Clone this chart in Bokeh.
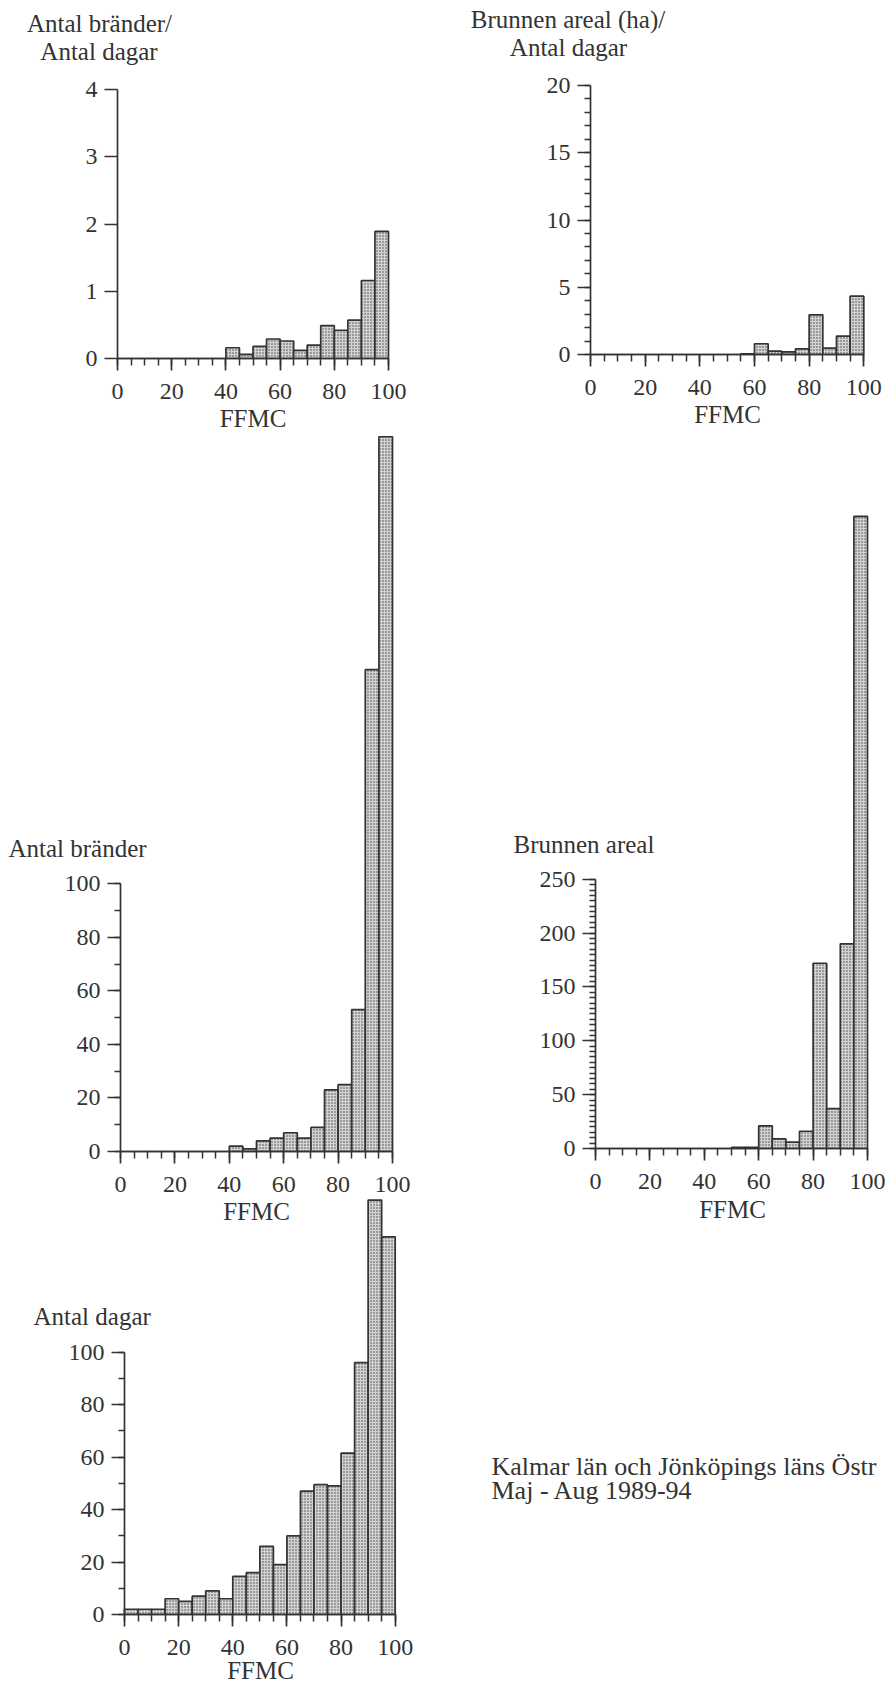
from bokeh.plotting import figure
from bokeh.models import Range1d, SingleIntervalTicker, Label, ColumnDataSource
from bokeh.layouts import row, column
from bokeh.embed import file_html
from bokeh.resources import INLINE

# ---------------- data ----------------
bin_left = [0, 5, 10, 15, 20, 25, 30, 35, 40, 45, 50, 55, 60, 65, 70, 75, 80, 85, 90, 95]
bin_right = [5, 10, 15, 20, 25, 30, 35, 40, 45, 50, 55, 60, 65, 70, 75, 80, 85, 90, 95, 100]

fires_per_day = [0, 0, 0, 0, 0, 0, 0, 0, 0.16, 0.06, 0.18, 0.29, 0.26, 0.12, 0.20, 0.49, 0.42, 0.57, 1.16, 1.89]
area_per_day = [0, 0, 0, 0, 0, 0, 0, 0, 0, 0, 0, 0.05, 0.8, 0.25, 0.2, 0.42, 2.95, 0.47, 1.36, 4.34]
fires = [0, 0, 0, 0, 0, 0, 0, 0, 2, 1, 4, 5, 7, 5, 9, 23, 25, 53, 180, 267]
area = [0, 0, 0, 0, 0, 0, 0, 0, 0, 0, 1, 1, 21, 9, 6, 16, 172, 37, 190, 587]
days = [2, 2, 2, 6, 5, 7, 9, 6, 14.5, 16, 26, 19, 30, 47, 49.5, 49, 61.5, 96, 158, 144]

x_title = "FFMC"
title_fires_per_day = ["Antal bränder/", "Antal dagar"]
title_area_per_day = ["Brunnen areal (ha)/", "Antal dagar"]
title_fires = "Antal bränder"
title_area = "Brunnen areal"
title_days = "Antal dagar"
note_lines = ["Kalmar län och Jönköpings läns Östr", "Maj - Aug 1989-94"]

# ---------------- style ----------------
FONT = "Liberation Serif"
TXT = "#333333"
LINE = "#333333"
LABEL_SHIFT = 9  # measured offset of Bokeh's alphabetic baseline placement


class Panel:
    """A figure whose frame fills the whole canvas; page geometry in pixels."""

    def __init__(self, ox, oy, W, H):
        self.ox, self.oy, self.W, self.H = ox, oy, W, H

    def new(self, X0=None, kx=None, Y0=None, ky=None):
        if X0 is None:
            xr, yr = Range1d(0, 1), Range1d(0, 1)
        else:
            xr = Range1d((self.ox - X0) / kx, (self.ox + self.W - X0) / kx)
            yr = Range1d((Y0 - (self.oy + self.H)) / ky, (Y0 - self.oy) / ky)
        p = figure(width=self.W, height=self.H, output_backend="svg",
                   toolbar_location=None, x_range=xr, y_range=yr,
                   min_border_left=0, min_border_right=0,
                   min_border_top=0, min_border_bottom=0)
        p.outline_line_color = None
        p.grid.visible = False
        p.background_fill_color = "white"
        p.border_fill_color = "white"
        self.p = p
        return p

    def text(self, px, py, text, align="center", size="25px", shift=LABEL_SHIFT):
        self.p.add_layout(Label(x=px - self.ox, y=self.oy + self.H - py + shift,
                                x_units="screen", y_units="screen",
                                text=text, text_align=align, text_baseline="alphabetic",
                                text_font=FONT, text_font_size=size, text_color=TXT))


def make_chart(panel, values, X0, kx, Y0, ky, y_bounds, y_interval, y_minor):
    p = panel.new(X0, kx, Y0, ky)
    src = ColumnDataSource(dict(left=bin_left, right=bin_right, top=values))
    p.quad(left="left", right="right", bottom=0, top="top", source=src,
           fill_color="#d2d2d2", line_color=LINE, line_width=1.7,
           hatch_pattern="dot", hatch_color="#444444", hatch_scale=3, hatch_weight=1.0)

    xa = p.xaxis[0]
    xa.ticker = SingleIntervalTicker(interval=20, num_minor_ticks=4)
    xa.bounds = (0, 100)
    xa.fixed_location = 0
    ya = p.yaxis[0]
    ya.ticker = SingleIntervalTicker(interval=y_interval, num_minor_ticks=y_minor)
    ya.bounds = y_bounds
    ya.fixed_location = 0
    for ax in (xa, ya):
        ax.axis_line_color = LINE
        ax.axis_line_width = 1.7
        ax.major_tick_line_color = LINE
        ax.minor_tick_line_color = LINE
        ax.major_tick_line_width = 1.7
        ax.minor_tick_line_width = 1.5
        ax.major_tick_in = 0
        ax.minor_tick_in = 0
        ax.major_label_text_font = FONT
        ax.major_label_text_font_size = "24px"
        ax.major_label_text_color = TXT
    xa.major_tick_out = 12
    xa.minor_tick_out = 7
    xa.major_label_standoff = 13
    ya.major_tick_out = 13
    ya.minor_tick_out = 6
    ya.major_label_standoff = 7
    return p


# chart 1 (top-left)
c1 = Panel(0, 0, 443, 432)
p1 = make_chart(c1, fires_per_day, 117, 2.71, 358, 67.25, (0, 4), 1, 0)
c1.text(99, 31.7, title_fires_per_day[0])
c1.text(98.5, 60, title_fires_per_day[1])
c1.text(252.5, 427, x_title)

# chart 2 (top-right)
c2 = Panel(443, 0, 443, 432)
p2 = make_chart(c2, area_per_day, 590, 2.733, 354, 13.45, (0, 20), 5, 5)
c2.text(567.5, 28.3, title_area_per_day[0])
c2.text(568, 56, title_area_per_day[1])
c2.text(727, 423.3, x_title)

# chart 3 (middle-left)
c3 = Panel(0, 432, 443, 765)
p3 = make_chart(c3, fires, 120, 2.72, 1151, 2.677, (0, 100), 20, 2)
c3.text(8, 857, title_fires, align="left")

# chart 4 (middle-right)
c4 = Panel(443, 432, 443, 796)
p4 = make_chart(c4, area, 595, 2.72, 1148, 1.077, (0, 250), 50, 10)
c4.text(513, 852.7, title_area, align="left")
c4.text(732, 1218, x_title)

# chart 5 (bottom-left)
c5 = Panel(0, 1197, 443, 501)
p5 = make_chart(c5, days, 124, 2.707, 1614, 2.623, (0, 100), 20, 2)
c5.text(33, 1325, title_days, align="left")
c5.text(260, 1681, x_title, shift=11)
c5.text(256, 1220, x_title)  # x-axis title of chart 3 (lies below chart 3's canvas)

# note (bottom-right)
cn = Panel(443, 1228, 443, 470)
pn = cn.new()
pn.axis.visible = False
cn.text(491, 1471.7, note_lines[0], align="left", size="26px", shift=6)
cn.text(491, 1496, note_lines[1], align="left", size="26px", shift=6)

layout = row(column(p1, p3, p5, spacing=0), column(p2, p4, pn, spacing=0), spacing=0)

open("out.html", "w").write(file_html(layout, INLINE))
